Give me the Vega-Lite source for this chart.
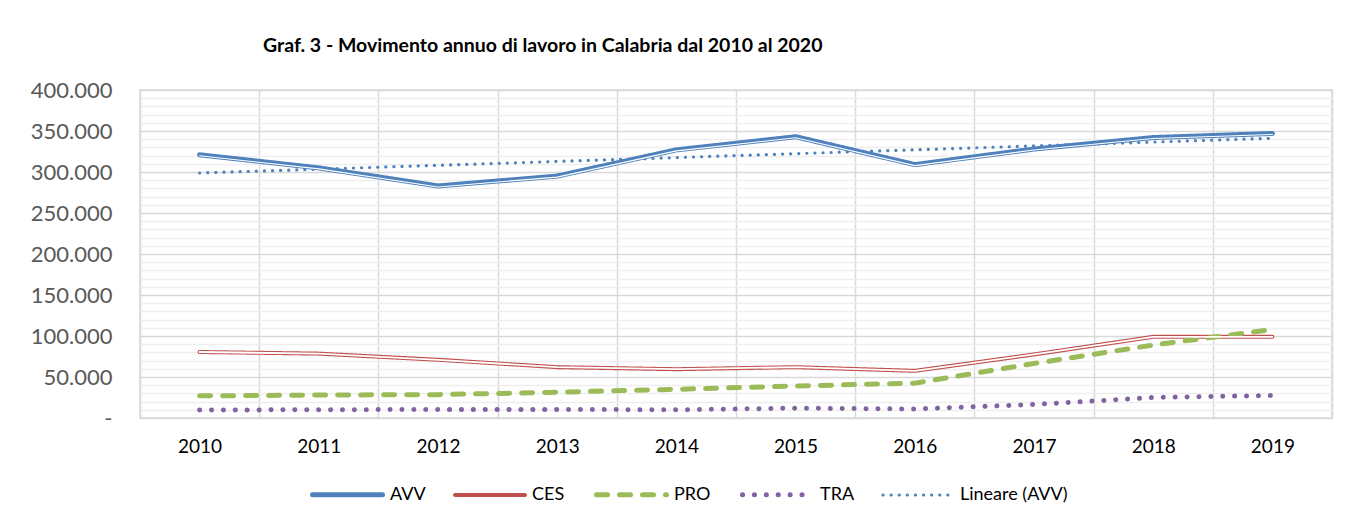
{
  "$schema": "https://vega.github.io/schema/vega-lite/v6.json",
  "autosize": "none",
  "width": 1192,
  "height": 328,
  "padding": {"left": 140, "top": 90, "right": 17, "bottom": 106},
  "background": "white",
  "config": {
    "font": "Lato",
    "view": {"stroke": "#d9d9d9", "strokeWidth": 1.5}
  },
  "title": {
    "text": "Graf. 3 - Movimento annuo di lavoro in Calabria dal 2010 al 2020",
    "anchor": "start",
    "frame": "group",
    "dx": 123,
    "offset": 23,
    "font": "Lato",
    "fontSize": 19.5,
    "fontWeight": "bold",
    "color": "#000000"
  },
  "data": {
    "values": [
      {"anno": "2010", "serie": "AVV", "valore": 321000},
      {"anno": "2011", "serie": "AVV", "valore": 305000},
      {"anno": "2012", "serie": "AVV", "valore": 283000},
      {"anno": "2013", "serie": "AVV", "valore": 295000},
      {"anno": "2014", "serie": "AVV", "valore": 327000},
      {"anno": "2015", "serie": "AVV", "valore": 343000},
      {"anno": "2016", "serie": "AVV", "valore": 309000},
      {"anno": "2017", "serie": "AVV", "valore": 328000},
      {"anno": "2018", "serie": "AVV", "valore": 342000},
      {"anno": "2019", "serie": "AVV", "valore": 347000},
      {"anno": "2010", "serie": "CES", "valore": 80500},
      {"anno": "2011", "serie": "CES", "valore": 78500},
      {"anno": "2012", "serie": "CES", "valore": 71000},
      {"anno": "2013", "serie": "CES", "valore": 62000},
      {"anno": "2014", "serie": "CES", "valore": 59500},
      {"anno": "2015", "serie": "CES", "valore": 62000},
      {"anno": "2016", "serie": "CES", "valore": 57500},
      {"anno": "2017", "serie": "CES", "valore": 77500},
      {"anno": "2018", "serie": "CES", "valore": 99000},
      {"anno": "2019", "serie": "CES", "valore": 99000},
      {"anno": "2010", "serie": "PRO", "valore": 27000},
      {"anno": "2011", "serie": "PRO", "valore": 28000},
      {"anno": "2012", "serie": "PRO", "valore": 28500},
      {"anno": "2013", "serie": "PRO", "valore": 31500},
      {"anno": "2014", "serie": "PRO", "valore": 35000},
      {"anno": "2015", "serie": "PRO", "valore": 39000},
      {"anno": "2016", "serie": "PRO", "valore": 42500},
      {"anno": "2017", "serie": "PRO", "valore": 66500},
      {"anno": "2018", "serie": "PRO", "valore": 89000},
      {"anno": "2019", "serie": "PRO", "valore": 108000},
      {"anno": "2010", "serie": "TRA", "valore": 9800},
      {"anno": "2011", "serie": "TRA", "valore": 10000},
      {"anno": "2012", "serie": "TRA", "valore": 10500},
      {"anno": "2013", "serie": "TRA", "valore": 10500},
      {"anno": "2014", "serie": "TRA", "valore": 10000},
      {"anno": "2015", "serie": "TRA", "valore": 12000},
      {"anno": "2016", "serie": "TRA", "valore": 11000},
      {"anno": "2017", "serie": "TRA", "valore": 16500},
      {"anno": "2018", "serie": "TRA", "valore": 25000},
      {"anno": "2019", "serie": "TRA", "valore": 27500},
      {"anno": "2010", "serie": "Lineare (AVV)", "valore": 298800},
      {"anno": "2011", "serie": "Lineare (AVV)", "valore": 303500},
      {"anno": "2012", "serie": "Lineare (AVV)", "valore": 308200},
      {"anno": "2013", "serie": "Lineare (AVV)", "valore": 312900},
      {"anno": "2014", "serie": "Lineare (AVV)", "valore": 317600},
      {"anno": "2015", "serie": "Lineare (AVV)", "valore": 322400},
      {"anno": "2016", "serie": "Lineare (AVV)", "valore": 327100},
      {"anno": "2017", "serie": "Lineare (AVV)", "valore": 331800},
      {"anno": "2018", "serie": "Lineare (AVV)", "valore": 336500},
      {"anno": "2019", "serie": "Lineare (AVV)", "valore": 341200}
    ]
  },
  "encoding": {
    "x": {
      "field": "anno",
      "type": "ordinal",
      "bandPosition": 0.5,
      "scale": {"type": "band", "paddingInner": 0, "paddingOuter": 0},
      "axis": {
        "title": null,
        "labelAngle": 0,
        "tickBand": "extent",
        "ticks": false,
        "domain": false,
        "grid": true,
        "gridColor": "#d9d9d9",
        "gridWidth": 1.5,
        "labelFont": "Lato",
        "labelFontSize": 19,
        "labelColor": "#000000",
        "labelPadding": 19
      }
    },
    "y": {
      "field": "valore",
      "type": "quantitative",
      "scale": {"domain": [0, 400000], "nice": false},
      "axis": {
        "title": null,
        "values": [0, 10000, 20000, 30000, 40000, 50000, 60000, 70000, 80000, 90000, 100000, 110000, 120000, 130000, 140000, 150000, 160000, 170000, 180000, 190000, 200000, 210000, 220000, 230000, 240000, 250000, 260000, 270000, 280000, 290000, 300000, 310000, 320000, 330000, 340000, 350000, 360000, 370000, 380000, 390000, 400000],
        "labelExpr": "datum.value % 50000 === 0 ? (datum.value === 0 ? '-\u00a0\u00a0\u00a0' : replace(format(datum.value, ','), ',', '.')) : ''",
        "ticks": false,
        "domain": false,
        "grid": true,
        "gridColor": {"condition": {"test": "datum.value % 50000 === 0", "value": "#d9d9d9"}, "value": "#eeeeee"},
        "gridWidth": 1.5,
        "labelFont": "Lato",
        "labelFontSize": 22,
        "labelColor": "#595959",
        "labelPadding": 28,
        "labelOverlap": false
      }
    }
  },
  "layer": [
    {
      "mark": {"type": "line", "strokeCap": "round", "strokeJoin": "round"},
      "encoding": {
        "color": {
          "field": "serie",
          "type": "nominal",
          "sort": ["AVV", "CES", "PRO", "TRA", "Lineare (AVV)"],
          "scale": {"domain": ["AVV", "CES", "PRO", "TRA", "Lineare (AVV)"], "range": ["#4F81BD", "#C0504D", "#9BBB59", "#8064A2", "#4F81BD"]},
          "legend": {
            "title": null,
            "orient": "none",
            "direction": "horizontal",
            "legendX": 170,
            "legendY": 367,
            "padding": 0,
            "symbolType": "stroke",
            "symbolSize": 4900,
            "labelFont": "Lato",
            "labelFontSize": 18,
            "labelColor": "#000000",
            "labelOffset": 5,
            "columnPadding": 21,
            "labelLimit": 300,
            "encode": {"symbols": {"update": {"strokeCap": {"value": "round"}}}}
          }
        },
        "strokeDash": {
          "field": "serie",
          "type": "nominal",
          "sort": ["AVV", "CES", "PRO", "TRA", "Lineare (AVV)"],
          "scale": {"domain": ["AVV", "CES", "PRO", "TRA", "Lineare (AVV)"], "range": [[1, 0], [1, 0], [11, 12], [0.1, 11.8], [0.1, 8]]},
          "legend": {"title": null}
        },
        "strokeWidth": {
          "field": "serie",
          "type": "nominal",
          "sort": ["AVV", "CES", "PRO", "TRA", "Lineare (AVV)"],
          "scale": {"type": "ordinal", "domain": ["AVV", "CES", "PRO", "TRA", "Lineare (AVV)"], "range": [5, 4, 5, 5, 3.2]},
          "legend": {"title": null}
        }
      }
    },
    {
      "transform": [{"filter": "datum.serie === 'AVV'"}],
      "mark": {"type": "line", "color": "white", "strokeWidth": 1.1, "yOffset": 1, "strokeCap": "round", "strokeJoin": "round"}
    },
    {
      "transform": [{"filter": "datum.serie === 'CES'"}],
      "mark": {"type": "line", "color": "white", "strokeWidth": 1.8, "strokeCap": "round", "strokeJoin": "round"}
    }
  ]
}
